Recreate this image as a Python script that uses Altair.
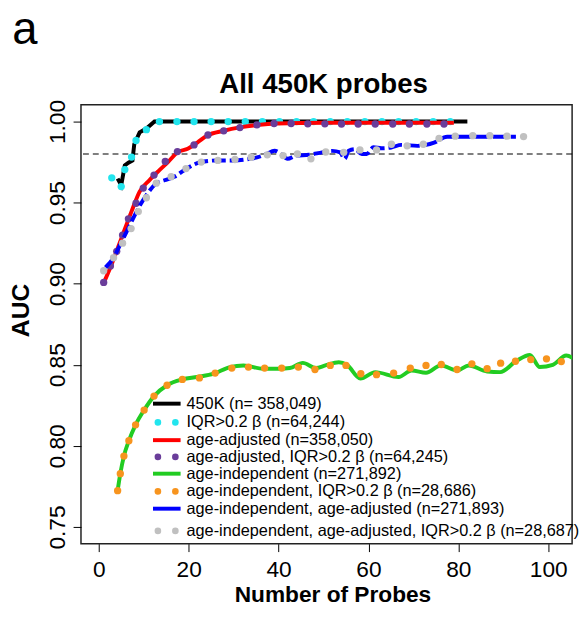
import altair as alt
import pandas as pd

FONT = "Liberation Sans"

# ---------------- data ----------------
k450_x = [4.2, 5.0, 5.8, 6.6, 7.5, 7.9, 9.1, 10.6, 12.4, 82.0]
k450_y = [0.9648, 0.9608, 0.973, 0.9746, 0.976, 0.986, 0.9933, 0.9957, 1.0, 1.0]

iqr_x = [2.9, 5.0, 5.8, 7.3, 8.3, 10.6, 13.5, 17.4, 21.2, 25.0, 28.8, 32.6, 36.4, 40.2,
         44.0, 47.8, 51.5, 55.3, 59.2, 63.0, 66.7, 70.6, 74.4, 78.2]
iqr_y = [0.9653, 0.9599, 0.9704, 0.9781, 0.9883, 0.995, 1.0, 1.0, 1.0, 1.0, 1.0, 1.0, 1.0,
         1.0, 1.0, 1.0, 1.0, 1.0, 1.0, 1.0, 1.0, 1.0, 1.0, 1.0]

adj_x = [1.1, 2.9, 5.1, 7.3, 9.1, 11.3, 13.5, 15.4, 17.6, 19.8, 22.0, 24.1, 27.8, 31.4,
         35.1, 39.5, 50.5, 79.0]
adj_y = [0.9004, 0.9122, 0.9284, 0.9446, 0.9568, 0.9639, 0.970, 0.975, 0.9811, 0.9832,
         0.9872, 0.9913, 0.9943, 0.9964, 0.9978, 0.9988, 0.9992, 0.9992]

adj_iqr_x = [1.1, 2.6, 4.0, 5.3, 6.6, 8.3, 9.9, 12.3, 14.8, 17.5, 21.2, 24.3, 27.8, 31.4,
             35.2, 39.0, 42.8, 46.5, 50.3, 54.0, 57.7, 61.5, 65.4, 69.1, 73.0, 76.8]
adj_iqr_y = [0.9008, 0.911, 0.920, 0.930, 0.940, 0.9496, 0.959, 0.967, 0.9754, 0.9815,
             0.9856, 0.9917, 0.9943, 0.9963, 0.998, 0.9988, 0.9988, 0.9986, 0.9986, 0.9985,
             0.9985, 0.9985, 0.9985, 0.9985, 0.9985, 0.9985]

ind_x = [4.2, 4.8, 5.6, 6.7, 8.2, 10.1, 12.3, 15.2, 18.6, 21.9, 25.6, 29.2, 32.2, 36.6,
         40.2, 42.5, 45.4, 48.3, 50.4, 53.4, 55.2, 58.2, 61.5, 66.7, 69.6, 72.8, 76.1,
         79.8, 82.3, 86.4, 89.3, 93.0, 95.9, 98.1, 101.0, 104.0, 106.0]
ind_y = [0.7724, 0.7829, 0.7937, 0.8032, 0.813, 0.8221, 0.8307, 0.8374, 0.841, 0.8425,
         0.8445, 0.8486, 0.8496, 0.8476, 0.8476, 0.848, 0.8512, 0.848, 0.8496, 0.8516,
         0.850, 0.8415, 0.8455, 0.8425, 0.8465, 0.8451, 0.8496, 0.8465, 0.8496, 0.8459,
         0.8455, 0.8526, 0.8561, 0.8486, 0.850, 0.8557, 0.853]

ind_iqr_x = [4.2, 4.8, 5.6, 6.7, 8.2, 10.1, 12.3, 15.2, 18.6, 22.4, 25.9, 29.6, 33.3, 36.9,
             40.7, 44.4, 48.1, 51.5, 55.0, 58.3, 61.8, 65.6, 69.3, 72.8, 76.2, 79.7, 83.0,
             86.4, 89.4, 92.7, 96.1, 99.6, 102.9]
ind_iqr_y = [0.7724, 0.7829, 0.7937, 0.8032, 0.813, 0.8221, 0.8307, 0.8374, 0.841, 0.8419,
             0.8449, 0.848, 0.8486, 0.848, 0.848, 0.8486, 0.8471, 0.8496, 0.8496, 0.8445,
             0.8439, 0.8449, 0.848, 0.8496, 0.8502, 0.8471, 0.8506, 0.8476, 0.851, 0.8522,
             0.8532, 0.8537, 0.852]

ind_adj_x = [1.5, 3.3, 5.1, 6.9, 8.8, 10.6, 12.8, 14.6, 16.8, 19.0, 22.7, 26.3, 30.0, 33.6,
             35.4, 37.3, 39.1, 40.6, 42.0, 43.9, 46.8, 49.7, 51.9, 53.7, 54.7, 55.6, 57.0,
             58.5, 59.6, 61.1, 62.9, 65.1, 67.3, 70.9, 72.8, 74.6, 77.5, 80.4, 87.7, 92.8]
ind_adj_y = [0.910, 0.916, 0.926, 0.936, 0.9465, 0.9547, 0.9618, 0.9638, 0.9659, 0.970,
             0.975, 0.976, 0.976, 0.977, 0.978, 0.980, 0.982, 0.980, 0.977, 0.979, 0.9795,
             0.981, 0.9819, 0.981, 0.977, 0.982, 0.983, 0.980, 0.980, 0.9841, 0.9835, 0.984,
             0.9856, 0.985, 0.9856, 0.987, 0.9906, 0.9906, 0.9906, 0.9906]

ind_adj_iqr_x = [1.1, 3.3, 5.3, 7.2, 8.8, 10.6, 12.8, 16.1, 19.4, 22.8, 26.5, 30.3, 33.9,
                 37.5, 41.0, 44.2, 47.2, 50.5, 54.5, 58.1, 61.8, 65.1, 68.6, 72.2, 75.7,
                 79.3, 83.2, 87.0, 90.8, 94.5]
ind_adj_iqr_y = [0.908, 0.916, 0.925, 0.934, 0.9445, 0.953, 0.962, 0.966, 0.971, 0.975,
                 0.976, 0.9766, 0.978, 0.9795, 0.979, 0.980, 0.977, 0.9812, 0.981, 0.9825,
                 0.9825, 0.986, 0.985, 0.986, 0.9896, 0.991, 0.9913, 0.9913, 0.991, 0.9907]

legend_labels = [
    "450K (n= 358,049)",
    "IQR>0.2 \u03b2 (n=64,244)",
    "age-adjusted (n=358,050)",
    "age-adjusted, IQR>0.2 \u03b2 (n=64,245)",
    "age-independent (n=271,892)",
    "age-independent, IQR>0.2 \u03b2 (n=28,686)",
    "age-independent, age-adjusted (n=271,893)",
    "age-independent, age-adjusted, IQR>0.2 \u03b2 (n=28,687)",
]
legend_kinds = ["line", "dot", "line", "dot", "line", "dot", "line", "dot"]

COLORS = ["#000000", "#22E5EE", "#FF0000", "#6A3D9A",
          "#22CC22", "#F7941E", "#0000FF", "#C0C0C0"]

# ---------------- layout ----------------
W, H = 498, 445
X0, X1 = -3.95, 105.3
Y0, Y1 = 0.7397, 1.0103
xs = alt.Scale(domain=[X0, X1], nice=False, zero=False)
ys = alt.Scale(domain=[Y0, Y1], nice=False, zero=False)

x_axis = alt.Axis(values=[0, 20, 40, 60, 80, 100], format="d", title="Number of Probes",
                  labelFontSize=23, titleFontSize=23, titleFontWeight="bold",
                  labelFont=FONT, titleFont=FONT, tickSize=8, labelPadding=7,
                  domain=False, grid=False, tickColor="black", labelColor="black",
                  titleColor="black", labelFlush=False, titleX=255, titleY=52,
                  titleBaseline="middle", titleAlign="center")
y_axis = alt.Axis(values=[0.75, 0.80, 0.85, 0.90, 0.95, 1.00], format=".2f", title="AUC",
                  labelFontSize=23, titleFontSize=25, titleFontWeight="bold",
                  labelFont=FONT, titleFont=FONT, tickSize=8, labelPadding=9,
                  labelAngle=270, labelAlign="center", labelBaseline="alphabetic",
                  domain=False, grid=False, tickColor="black", labelColor="black",
                  titleColor="black", labelFlush=False, titleX=-61, titleY=208,
                  titleAngle=270, titleBaseline="middle", titleAlign="center")


def X(field="x"):
    return alt.X(f"{field}:Q", scale=xs, axis=x_axis)


def Y(field="y"):
    return alt.Y(f"{field}:Q", scale=ys, axis=y_axis)


def line_layer(xv, yv, color, dash=None, interp="monotone"):
    df = pd.DataFrame({"x": xv, "y": yv})
    kw = dict(color=color, strokeWidth=4, clip=True, interpolate=interp, strokeCap="butt")
    if dash:
        kw["strokeDash"] = dash
    return alt.Chart(df).mark_line(**kw).encode(x=X(), y=Y())


def dot_layer(xv, yv, color):
    df = pd.DataFrame({"x": xv, "y": yv})
    return alt.Chart(df).mark_circle(color=color, size=55, opacity=1, clip=True).encode(
        x=X(), y=Y())


ref = alt.Chart(pd.DataFrame({"y": [0.98]})).mark_rule(
    color="black", strokeWidth=1.2, strokeDash=[6, 4]).encode(y=Y())

layers = [
    ref,
    line_layer(k450_x, k450_y, COLORS[0], interp="linear"),
    dot_layer(iqr_x, iqr_y, COLORS[1]),
    line_layer(adj_x, adj_y, COLORS[2]),
    dot_layer(adj_iqr_x, adj_iqr_y, COLORS[3]),
    line_layer(ind_x, ind_y, COLORS[4]),
    dot_layer(ind_iqr_x, ind_iqr_y, COLORS[5]),
    line_layer(ind_adj_x, ind_adj_y, COLORS[6], dash=[14, 4]),
    dot_layer(ind_adj_iqr_x, ind_adj_iqr_y, COLORS[7]),
]

# ---------------- legend (placed in plot coordinates) ----------------
row_px = [303, 322, 340, 357, 374, 392, 409.5, 432]


def px_x(p):
    return X0 + p / W * (X1 - X0)


def px_y(p):
    return Y1 - p / H * (Y1 - Y0)


leg = pd.DataFrame({
    "label": legend_labels,
    "kind": legend_kinds,
    "color": COLORS,
    "y": [px_y(p) for p in row_px],
})
leg["x_text"] = px_x(107)
leg["x_l0"] = px_x(73)
leg["x_l1"] = px_x(101)
leg["x_d0"] = px_x(78)
leg["x_d1"] = px_x(95.7)

leg_lines = leg[leg.kind == "line"]
leg_dots = leg[leg.kind == "dot"]

layers.append(alt.Chart(leg_lines).mark_rule(strokeWidth=4).encode(
    x=X("x_l0"), x2="x_l1:Q", y=Y(), color=alt.Color("color:N", scale=None)))
for col in ["x_d0", "x_d1"]:
    layers.append(alt.Chart(leg_dots).mark_circle(size=45, opacity=1).encode(
        x=X(col), y=Y(), color=alt.Color("color:N", scale=None)))
layers.append(alt.Chart(leg).mark_text(align="left", baseline="middle", fontSize=16.5,
                                       font=FONT, color="black").encode(
    x=X("x_text"), y=Y(), text="label:N"))

# panel letter and title
labels_df = pd.DataFrame({"t": ["a"]})
layers.append(alt.Chart(labels_df).mark_text(
    align="center", baseline="alphabetic", fontSize=46, font=FONT, color="black").encode(
    x=alt.value(-57), y=alt.value(-62), text="t:N"))
title_df = pd.DataFrame({"t": ["All 450K probes"]})
layers.append(alt.Chart(title_df).mark_text(
    align="center", baseline="alphabetic", fontSize=28, fontWeight="bold", font=FONT,
    color="black").encode(x=alt.value(246), y=alt.value(-12), text="t:N"))

chart = alt.layer(*layers).properties(
    width=W, height=H,
    autosize=alt.AutoSizeParams(type="none"),
    padding={"left": 74, "top": 94, "right": 8, "bottom": 60},
).configure_view(stroke="#222222", strokeWidth=1.5)

chart.save("out.html", embed_options={"renderer": "svg", "actions": False})
